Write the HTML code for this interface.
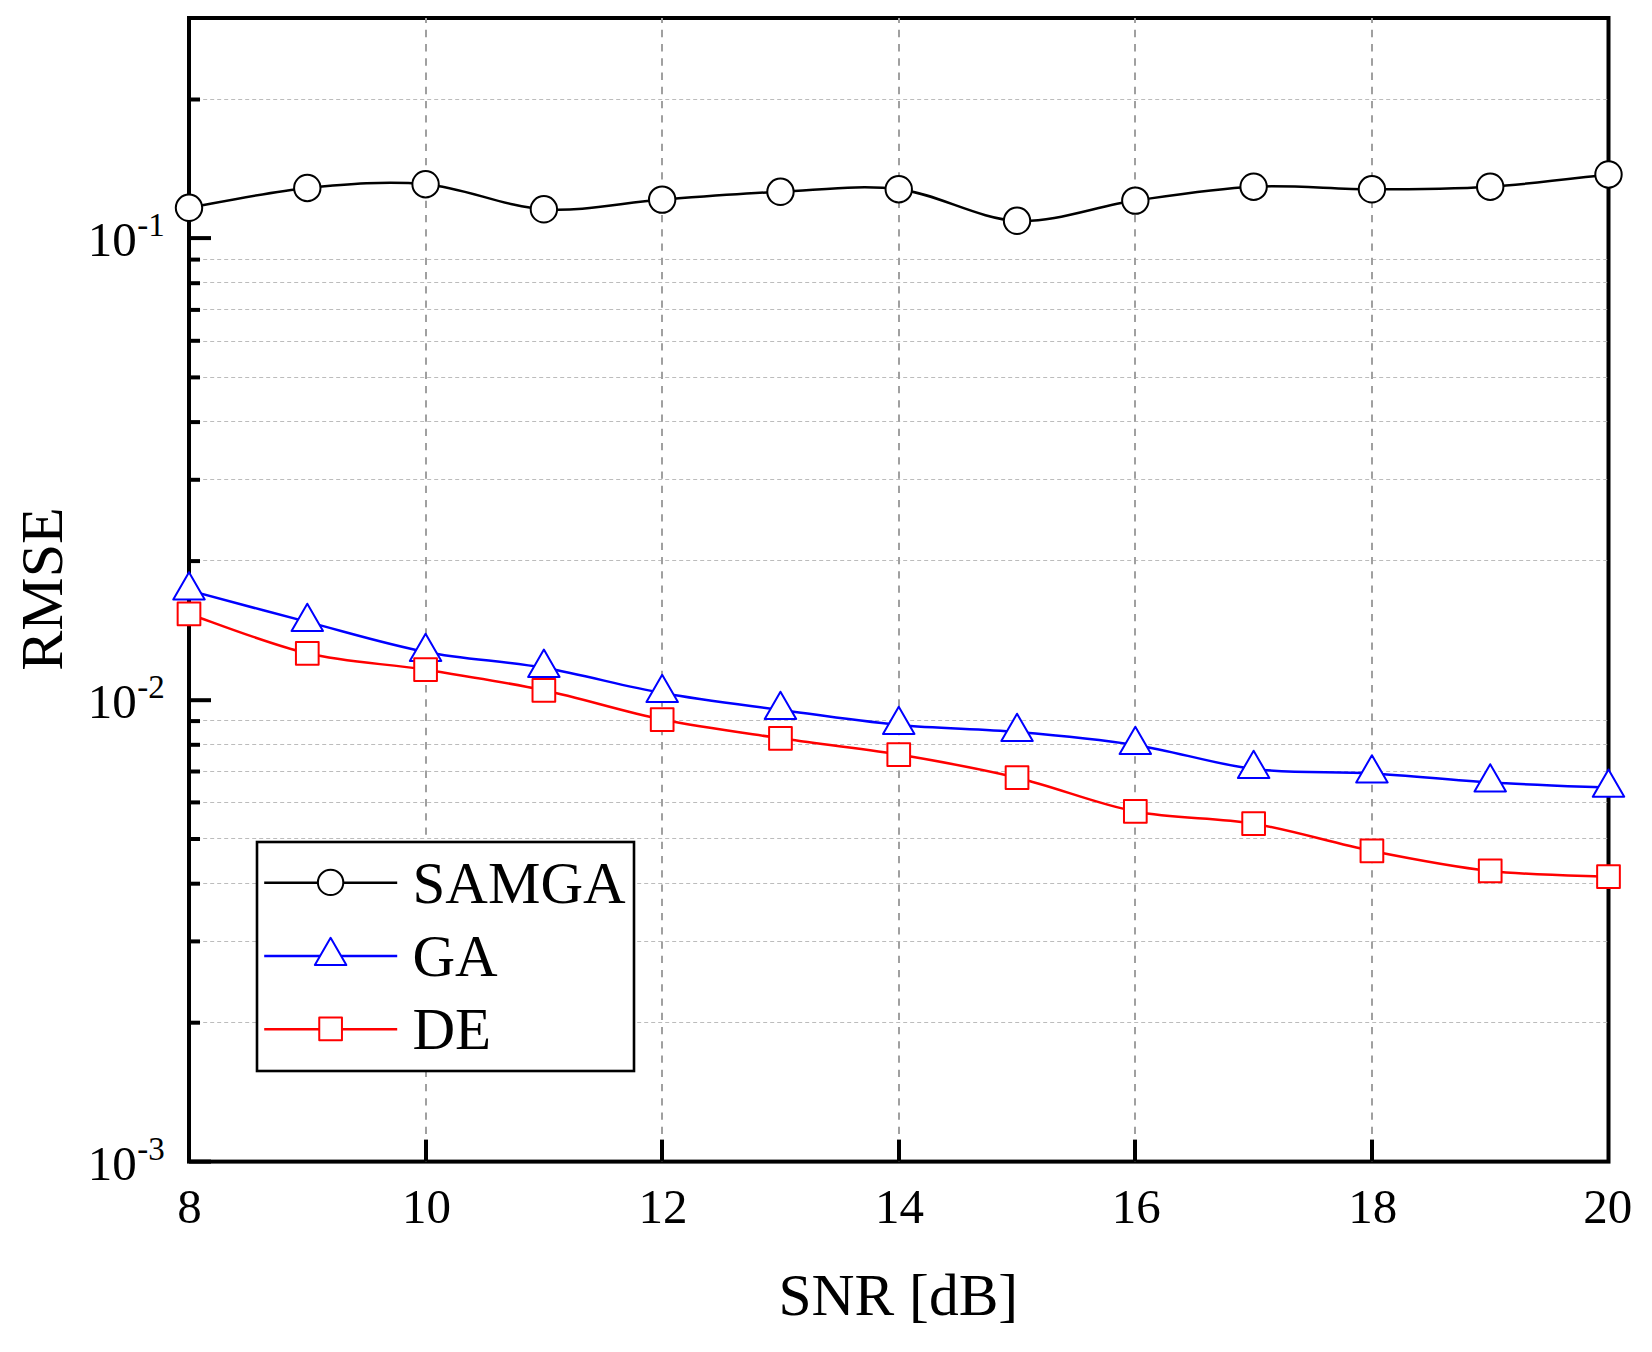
<!DOCTYPE html>
<html lang="en"><head><meta charset="utf-8"><title>RMSE vs SNR</title>
<style>html,body{margin:0;padding:0;background:#fff}body{width:1652px;height:1352px;overflow:hidden}svg{display:block}text{font-family:"Liberation Serif","Times New Roman",serif;fill:#000}</style></head><body>
<svg width="1652" height="1352" viewBox="0 0 1652 1352">
<rect width="1652" height="1352" fill="#fff"/>
<rect x="189" y="18" width="1419.5" height="1143.6" fill="none" stroke="#000" stroke-width="4"/>
<g stroke="#bcbcbc" stroke-width="1" stroke-dasharray="4 3" fill="none">
<line x1="189.2" y1="1022.5" x2="1608.6" y2="1022.5"/>
<line x1="189.2" y1="941.5" x2="1608.6" y2="941.5"/>
<line x1="189.2" y1="883.5" x2="1608.6" y2="883.5"/>
<line x1="189.2" y1="838.5" x2="1608.6" y2="838.5"/>
<line x1="189.2" y1="802.5" x2="1608.6" y2="802.5"/>
<line x1="189.2" y1="771.5" x2="1608.6" y2="771.5"/>
<line x1="189.2" y1="744.5" x2="1608.6" y2="744.5"/>
<line x1="189.2" y1="720.5" x2="1608.6" y2="720.5"/>
<line x1="189.2" y1="560.5" x2="1608.6" y2="560.5"/>
<line x1="189.2" y1="479.5" x2="1608.6" y2="479.5"/>
<line x1="189.2" y1="421.5" x2="1608.6" y2="421.5"/>
<line x1="189.2" y1="377.5" x2="1608.6" y2="377.5"/>
<line x1="189.2" y1="341.5" x2="1608.6" y2="341.5"/>
<line x1="189.2" y1="309.5" x2="1608.6" y2="309.5"/>
<line x1="189.2" y1="282.5" x2="1608.6" y2="282.5"/>
<line x1="189.2" y1="259.5" x2="1608.6" y2="259.5"/>
<line x1="189.2" y1="99.5" x2="1608.6" y2="99.5"/>
</g>
<g stroke="#a0a0a0" stroke-width="2" stroke-dasharray="7.3 6.945" stroke-dashoffset="2.4" fill="none">
<line x1="426" y1="18" x2="426" y2="1161.6"/>
<line x1="662" y1="18" x2="662" y2="1161.6"/>
<line x1="899" y1="18" x2="899" y2="1161.6"/>
<line x1="1135" y1="18" x2="1135" y2="1161.6"/>
<line x1="1372" y1="18" x2="1372" y2="1161.6"/>
</g>
<g stroke="#000" stroke-width="4" fill="none" stroke-linecap="butt">
<line x1="189" y1="1161.6" x2="211" y2="1161.6"/>
<line x1="189" y1="700.2" x2="211" y2="700.2"/>
<line x1="189" y1="238.1" x2="211" y2="238.1"/>
<line x1="189" y1="1022.7" x2="200" y2="1022.7"/>
<line x1="189" y1="941.4" x2="200" y2="941.4"/>
<line x1="189" y1="883.7" x2="200" y2="883.7"/>
<line x1="189" y1="839.0" x2="200" y2="839.0"/>
<line x1="189" y1="802.4" x2="200" y2="802.4"/>
<line x1="189" y1="771.5" x2="200" y2="771.5"/>
<line x1="189" y1="744.8" x2="200" y2="744.8"/>
<line x1="189" y1="721.1" x2="200" y2="721.1"/>
<line x1="189" y1="561.1" x2="200" y2="561.1"/>
<line x1="189" y1="479.8" x2="200" y2="479.8"/>
<line x1="189" y1="422.1" x2="200" y2="422.1"/>
<line x1="189" y1="377.4" x2="200" y2="377.4"/>
<line x1="189" y1="340.8" x2="200" y2="340.8"/>
<line x1="189" y1="309.9" x2="200" y2="309.9"/>
<line x1="189" y1="283.2" x2="200" y2="283.2"/>
<line x1="189" y1="259.6" x2="200" y2="259.6"/>
<line x1="189" y1="99.5" x2="200" y2="99.5"/>
<line x1="426" y1="1139.6" x2="426" y2="1161.6"/>
<line x1="662" y1="1139.6" x2="662" y2="1161.6"/>
<line x1="899" y1="1139.6" x2="899" y2="1161.6"/>
<line x1="1135" y1="1139.6" x2="1135" y2="1161.6"/>
<line x1="1372" y1="1139.6" x2="1372" y2="1161.6"/>
</g>
<path d="M189.00 207.80C208.72 204.49 267.86 191.88 307.29 187.95C346.72 184.02 386.15 180.64 425.58 184.20C465.01 187.76 504.44 206.73 543.88 209.30C583.31 211.87 622.74 202.52 662.17 199.60C701.60 196.68 741.03 193.53 780.46 191.80C819.89 190.07 859.32 184.37 898.75 189.20C938.18 194.03 977.61 218.90 1017.04 220.80C1056.47 222.70 1095.90 206.28 1135.33 200.60C1174.76 194.92 1214.19 188.58 1253.62 186.70C1293.06 184.82 1332.49 189.30 1371.92 189.30C1411.35 189.30 1450.78 189.17 1490.21 186.70C1529.64 184.22 1588.78 176.49 1608.50 174.45" fill="none" stroke="#000" stroke-width="2.5"/>
<circle cx="189.00" cy="207.80" r="13.2" fill="#fff" stroke="#000" stroke-width="2"/>
<circle cx="307.29" cy="187.95" r="13.2" fill="#fff" stroke="#000" stroke-width="2"/>
<circle cx="425.58" cy="184.20" r="13.2" fill="#fff" stroke="#000" stroke-width="2"/>
<circle cx="543.88" cy="209.30" r="13.2" fill="#fff" stroke="#000" stroke-width="2"/>
<circle cx="662.17" cy="199.60" r="13.2" fill="#fff" stroke="#000" stroke-width="2"/>
<circle cx="780.46" cy="191.80" r="13.2" fill="#fff" stroke="#000" stroke-width="2"/>
<circle cx="898.75" cy="189.20" r="13.2" fill="#fff" stroke="#000" stroke-width="2"/>
<circle cx="1017.04" cy="220.80" r="13.2" fill="#fff" stroke="#000" stroke-width="2"/>
<circle cx="1135.33" cy="200.60" r="13.2" fill="#fff" stroke="#000" stroke-width="2"/>
<circle cx="1253.62" cy="186.70" r="13.2" fill="#fff" stroke="#000" stroke-width="2"/>
<circle cx="1371.92" cy="189.30" r="13.2" fill="#fff" stroke="#000" stroke-width="2"/>
<circle cx="1490.21" cy="186.70" r="13.2" fill="#fff" stroke="#000" stroke-width="2"/>
<circle cx="1608.50" cy="174.45" r="13.2" fill="#fff" stroke="#000" stroke-width="2"/>
<path d="M189.00 590.40C208.72 595.65 267.86 611.65 307.29 621.90C346.72 632.15 386.15 644.25 425.58 651.90C465.01 659.55 504.44 660.95 543.88 667.80C583.31 674.65 622.74 685.98 662.17 693.00C701.60 700.02 741.03 704.58 780.46 709.90C819.89 715.22 859.32 721.23 898.75 724.90C938.18 728.57 977.61 728.57 1017.04 731.90C1056.47 735.23 1095.90 738.73 1135.33 744.90C1174.76 751.07 1214.19 764.15 1253.62 768.90C1293.06 773.65 1332.49 771.15 1371.92 773.40C1411.35 775.65 1450.78 780.02 1490.21 782.40C1529.64 784.77 1588.78 786.77 1608.50 787.65" fill="none" stroke="#0000ff" stroke-width="2.5"/>
<path d="M189.00 572.21L204.75 599.49L173.25 599.49Z" fill="#fff" stroke="#0000ff" stroke-width="2" stroke-linejoin="round"/>
<path d="M307.29 603.71L323.04 630.99L291.54 630.99Z" fill="#fff" stroke="#0000ff" stroke-width="2" stroke-linejoin="round"/>
<path d="M425.58 633.71L441.33 660.99L409.83 660.99Z" fill="#fff" stroke="#0000ff" stroke-width="2" stroke-linejoin="round"/>
<path d="M543.88 649.61L559.62 676.89L528.12 676.89Z" fill="#fff" stroke="#0000ff" stroke-width="2" stroke-linejoin="round"/>
<path d="M662.17 674.81L677.92 702.09L646.42 702.09Z" fill="#fff" stroke="#0000ff" stroke-width="2" stroke-linejoin="round"/>
<path d="M780.46 691.71L796.21 718.99L764.71 718.99Z" fill="#fff" stroke="#0000ff" stroke-width="2" stroke-linejoin="round"/>
<path d="M898.75 706.71L914.50 733.99L883.00 733.99Z" fill="#fff" stroke="#0000ff" stroke-width="2" stroke-linejoin="round"/>
<path d="M1017.04 713.71L1032.79 740.99L1001.29 740.99Z" fill="#fff" stroke="#0000ff" stroke-width="2" stroke-linejoin="round"/>
<path d="M1135.33 726.71L1151.08 753.99L1119.58 753.99Z" fill="#fff" stroke="#0000ff" stroke-width="2" stroke-linejoin="round"/>
<path d="M1253.62 750.71L1269.38 777.99L1237.88 777.99Z" fill="#fff" stroke="#0000ff" stroke-width="2" stroke-linejoin="round"/>
<path d="M1371.92 755.21L1387.67 782.49L1356.17 782.49Z" fill="#fff" stroke="#0000ff" stroke-width="2" stroke-linejoin="round"/>
<path d="M1490.21 764.21L1505.96 791.49L1474.46 791.49Z" fill="#fff" stroke="#0000ff" stroke-width="2" stroke-linejoin="round"/>
<path d="M1608.50 769.46L1624.25 796.74L1592.75 796.74Z" fill="#fff" stroke="#0000ff" stroke-width="2" stroke-linejoin="round"/>
<path d="M189.00 613.95C208.72 620.51 267.86 644.01 307.29 653.30C346.72 662.59 386.15 663.53 425.58 669.70C465.01 675.87 504.44 681.98 543.88 690.30C583.31 698.62 622.74 711.60 662.17 719.60C701.60 727.60 741.03 732.47 780.46 738.30C819.89 744.13 859.32 748.03 898.75 754.60C938.18 761.17 977.61 768.23 1017.04 777.70C1056.47 787.18 1095.90 803.78 1135.33 811.45C1174.76 819.12 1214.19 817.12 1253.62 823.70C1293.06 830.28 1332.49 843.08 1371.92 850.95C1411.35 858.83 1450.78 866.66 1490.21 870.95C1529.64 875.24 1588.78 875.74 1608.50 876.70" fill="none" stroke="#ff0000" stroke-width="2.5"/>
<rect x="177.65" y="602.60" width="22.7" height="22.7" fill="#fff" stroke="#ff0000" stroke-width="2" stroke-linejoin="round"/>
<rect x="295.94" y="641.95" width="22.7" height="22.7" fill="#fff" stroke="#ff0000" stroke-width="2" stroke-linejoin="round"/>
<rect x="414.23" y="658.35" width="22.7" height="22.7" fill="#fff" stroke="#ff0000" stroke-width="2" stroke-linejoin="round"/>
<rect x="532.52" y="678.95" width="22.7" height="22.7" fill="#fff" stroke="#ff0000" stroke-width="2" stroke-linejoin="round"/>
<rect x="650.82" y="708.25" width="22.7" height="22.7" fill="#fff" stroke="#ff0000" stroke-width="2" stroke-linejoin="round"/>
<rect x="769.11" y="726.95" width="22.7" height="22.7" fill="#fff" stroke="#ff0000" stroke-width="2" stroke-linejoin="round"/>
<rect x="887.40" y="743.25" width="22.7" height="22.7" fill="#fff" stroke="#ff0000" stroke-width="2" stroke-linejoin="round"/>
<rect x="1005.69" y="766.35" width="22.7" height="22.7" fill="#fff" stroke="#ff0000" stroke-width="2" stroke-linejoin="round"/>
<rect x="1123.98" y="800.10" width="22.7" height="22.7" fill="#fff" stroke="#ff0000" stroke-width="2" stroke-linejoin="round"/>
<rect x="1242.28" y="812.35" width="22.7" height="22.7" fill="#fff" stroke="#ff0000" stroke-width="2" stroke-linejoin="round"/>
<rect x="1360.57" y="839.60" width="22.7" height="22.7" fill="#fff" stroke="#ff0000" stroke-width="2" stroke-linejoin="round"/>
<rect x="1478.86" y="859.60" width="22.7" height="22.7" fill="#fff" stroke="#ff0000" stroke-width="2" stroke-linejoin="round"/>
<rect x="1597.15" y="865.35" width="22.7" height="22.7" fill="#fff" stroke="#ff0000" stroke-width="2" stroke-linejoin="round"/>
<rect x="257" y="842" width="377" height="229" fill="#fff" stroke="#000" stroke-width="2.6"/>
<line x1="264.2" y1="882.65" x2="397.2" y2="882.65" stroke="#000" stroke-width="2.5"/>
<circle cx="330.60" cy="882.40" r="12.7" fill="#fff" stroke="#000" stroke-width="2"/>
<text x="412.5" y="903.4" font-size="59">SAMGA</text>
<line x1="264.2" y1="956" x2="397.2" y2="956" stroke="#0000ff" stroke-width="2.5"/>
<path d="M330.60 937.81L346.35 965.09L314.85 965.09Z" fill="#fff" stroke="#0000ff" stroke-width="2" stroke-linejoin="round"/>
<text x="412.5" y="975.6" font-size="59">GA</text>
<line x1="264.2" y1="1029.15" x2="397.2" y2="1029.15" stroke="#ff0000" stroke-width="2.5"/>
<rect x="319.25" y="1017.45" width="22.7" height="22.7" fill="#fff" stroke="#ff0000" stroke-width="2" stroke-linejoin="round"/>
<text x="412.5" y="1048.8" font-size="59">DE</text>
<text x="189.4" y="1223.4" font-size="49" text-anchor="middle">8</text>
<text x="426.5" y="1223.4" font-size="49" text-anchor="middle">10</text>
<text x="663.1" y="1223.4" font-size="49" text-anchor="middle">12</text>
<text x="899.6" y="1223.4" font-size="49" text-anchor="middle">14</text>
<text x="1136.2" y="1223.4" font-size="49" text-anchor="middle">16</text>
<text x="1372.8" y="1223.4" font-size="49" text-anchor="middle">18</text>
<text x="1607.8" y="1223.4" font-size="49" text-anchor="middle">20</text>
<text x="87.8" y="256.1" font-size="49">10<tspan font-size="33" x="137.3" dy="-20">-1</tspan></text>
<text x="87.8" y="718.2" font-size="49">10<tspan font-size="33" x="137.3" dy="-20">-2</tspan></text>
<text x="87.8" y="1179.6" font-size="49">10<tspan font-size="33" x="137.3" dy="-20">-3</tspan></text>
<text x="898.3" y="1315.2" font-size="59.5" text-anchor="middle">SNR [dB]</text>
<text transform="translate(61.8 589.0) rotate(-90)" font-size="60" text-anchor="middle">RMSE</text>
</svg></body></html>
